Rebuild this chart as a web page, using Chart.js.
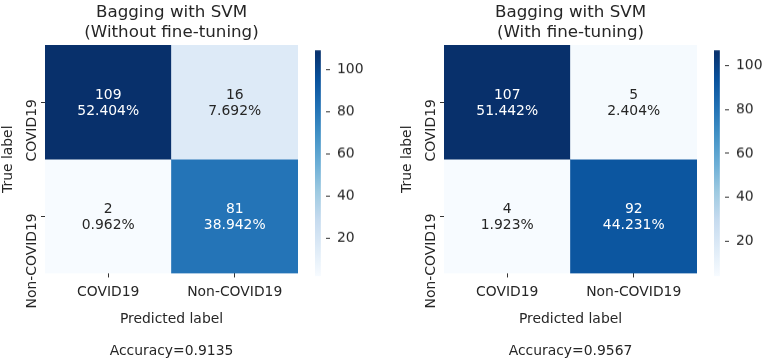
<!DOCTYPE html>
<html>
<head>
<meta charset="utf-8">
<title>Bagging with SVM - confusion matrices</title>
<script src="https://cdn.jsdelivr.net/npm/chart.js@4.4.0/dist/chart.umd.min.js"></script>
<style>
	body{margin:0;background:#fff;}
	#page{position:relative;width:762px;height:360px;overflow:hidden;background:#fff;}
	.box{position:absolute;}
</style>
</head>
<body>
<div id="page">
	<div class="box" style="left:0;top:0;width:300px;height:360px"><canvas id="matrixPlain"></canvas></div>
	<div class="box" style="left:315px;top:35px;width:52px;height:255.5px"><canvas id="barPlain"></canvas></div>
	<div class="box" style="left:399px;top:0;width:300px;height:360px"><canvas id="matrixTuned"></canvas></div>
	<div class="box" style="left:714px;top:35px;width:48px;height:255.5px"><canvas id="barTuned"></canvas></div>
</div>
<script>
// Confusion matrices for bagging with SVM, before and after fine-tuning
const classes = ['COVID19', 'Non-COVID19'];

const countsPlain = [[109, 16], [2, 81]];
const percentsPlain = [[52.404, 7.692], [0.962, 38.942]];
const countsTuned = [[107, 5], [4, 92]];
const percentsTuned = [[51.442, 2.404], [1.923, 44.231]];

const titlePlain = ['Bagging with SVM', '(Without fine-tuning)'];
const titleTuned = ['Bagging with SVM', '(With fine-tuning)'];
const accuracyPlain = 0.9135;
const accuracyTuned = 0.9567;

const colorbarTicks = [20, 40, 60, 80, 100];

// matplotlib "Blues" colour stops
const bluesStops = ['#f7fbff', '#deebf7', '#c6dbef', '#9ecae1', '#6baed6', '#4292c6', '#2171b5', '#08519c', '#08306b'];

const textDark = '#262626';
const fontFamily = '"DejaVu Sans", Verdana, sans-serif';
const labelSize = 13.9;
const titleSize = 16.7;

Chart.defaults.font.family = fontFamily;
Chart.defaults.font.size = labelSize;
Chart.defaults.color = textDark;

function hexToRgb(hex){
	return [parseInt(hex.slice(1, 3), 16), parseInt(hex.slice(3, 5), 16), parseInt(hex.slice(5, 7), 16)];
}

function blues(t){
	t = Math.min(1, Math.max(0, t));
	let pos = t * (bluesStops.length - 1);
	let i = Math.min(Math.floor(pos), bluesStops.length - 2);
	let f = pos - i;
	let a = hexToRgb(bluesStops[i]);
	let b = hexToRgb(bluesStops[i + 1]);
	return a.map((v, k) => Math.round(v + (b[k] - v) * f));
}

function rgbString(c){
	return 'rgb(' + c[0] + ',' + c[1] + ',' + c[2] + ')';
}

// same rule seaborn uses to pick the annotation colour
function textColorFor(c){
	let lin = c.map(v => {
		v = v / 255;
		return v <= 0.03928 ? v / 12.92 : Math.pow((v + 0.055) / 1.055, 2.4);
	});
	let lum = 0.2126 * lin[0] + 0.7152 * lin[1] + 0.0722 * lin[2];
	return lum > 0.408 ? textDark : '#ffffff';
}

// count + percentage written in the middle of each cell
const cellTextPlugin = {
	id: 'cellText',
	afterDatasetsDraw(chart, args, opts){
		let ctx = chart.ctx;
		ctx.save();
		ctx.font = labelSize + 'px ' + fontFamily;
		ctx.textAlign = 'center';
		ctx.textBaseline = 'middle';
		chart.data.datasets.forEach((ds, row) => {
			chart.getDatasetMeta(row).data.forEach((bar, col) => {
				let p = bar.getCenterPoint();
				ctx.fillStyle = opts.colors[row][col];
				ctx.fillText(String(opts.counts[row][col]), p.x, p.y - 6.8);
				ctx.fillText(opts.percents[row][col].toFixed(3) + '%', p.x, p.y + 9.4);
			});
		});
		ctx.restore();
	}
};

// rotated class names on the y axis, hanging down from each tick like the original
const yLabelPlugin = {
	id: 'yLabels',
	afterDraw(chart, args, opts){
		let scale = chart.scales.y;
		let ctx = chart.ctx;
		ctx.save();
		ctx.font = labelSize + 'px ' + fontFamily;
		ctx.fillStyle = textDark;
		ctx.textAlign = 'right';
		ctx.textBaseline = 'alphabetic';
		scale.ticks.forEach((tick, i) => {
			let y = scale.getPixelForValue(tick.value);
			ctx.save();
			ctx.translate(scale.right - 9, y - 3);
			ctx.rotate(-Math.PI / 2);
			ctx.fillText(opts.labels[i], 0, 0);
			ctx.restore();
		});
		ctx.restore();
	}
};

function drawMatrix(canvasId, counts, percents, title, accuracy){
	let flat = counts.flat();
	let vmin = Math.min(...flat);
	let vmax = Math.max(...flat);
	let cellColors = counts.map(row => row.map(v => blues((v - vmin) / (vmax - vmin))));

	// one floating bar per cell, each row spans [r, r + 1] on the y scale
	let datasets = counts.map((row, r) => ({
		data: row.map(() => [r, r + 1]),
		backgroundColor: cellColors[r].map(rgbString),
		borderWidth: 0,
		grouped: false,
		barPercentage: 1,
		categoryPercentage: 1
	}));

	return new Chart(document.getElementById(canvasId), {
		type: 'bar',
		data: {labels: classes, datasets: datasets},
		plugins: [cellTextPlugin, yLabelPlugin],
		options: {
			responsive: true,
			maintainAspectRatio: false,
			animation: false,
			events: [],
			layout: {padding: {left: 0, right: 2, top: 0, bottom: 0}},
			scales: {
				x: {
					type: 'category',
					offset: true,
					grid: {display: true, drawOnChartArea: false, drawTicks: true, tickLength: 4, offset: false, color: '#333'},
					border: {display: false},
					ticks: {padding: 7, font: {size: labelSize}, color: textDark, maxRotation: 0},
					title: {display: true, text: 'Predicted label', font: {size: labelSize}, color: textDark, padding: {top: 2.5, bottom: 0}}
				},
				y: {
					type: 'linear',
					min: 0,
					max: 2,
					reverse: true,
					afterBuildTicks: scale => {
						scale.ticks = classes.map((c, i) => ({value: i + 0.5}));
					},
					afterFit: scale => {
						scale.width = 45;
					},
					grid: {display: true, drawOnChartArea: false, drawTicks: true, tickLength: 4, color: '#333'},
					border: {display: false},
					ticks: {display: false},
					title: {display: true, text: 'True label', font: {size: labelSize}, color: textDark, padding: {top: 0, bottom: 0}}
				}
			},
			plugins: {
				legend: {display: false},
				tooltip: {enabled: false},
				title: {
					display: true,
					text: title,
					fullSize: false,
					color: textDark,
					font: {size: titleSize, weight: 'normal', lineHeight: 1.17},
					padding: {top: 3, bottom: 3}
				},
				subtitle: {
					display: true,
					position: 'bottom',
					text: 'Accuracy=' + accuracy.toFixed(4),
					fullSize: false,
					color: textDark,
					font: {size: labelSize, weight: 'normal'},
					padding: {top: 16, bottom: 0}
				},
				cellText: {
					counts: counts,
					percents: percents,
					colors: cellColors.map(row => row.map(textColorFor))
				},
				yLabels: {labels: classes}
			}
		}
	});
}

// vertical colour bar with its own value axis
function drawColorbar(canvasId, counts){
	let flat = counts.flat();
	let vmin = Math.min(...flat);
	let vmax = Math.max(...flat);

	return new Chart(document.getElementById(canvasId), {
		type: 'bar',
		data: {
			labels: [''],
			datasets: [{
				data: [[vmin, vmax]],
				borderWidth: 0,
				barPercentage: 1,
				categoryPercentage: 1,
				backgroundColor: context => {
					let area = context.chart.chartArea;
					if(!area) return bluesStops[4];
					let grad = context.chart.ctx.createLinearGradient(0, area.bottom, 0, area.top);
					bluesStops.forEach((c, i) => grad.addColorStop(i / (bluesStops.length - 1), c));
					return grad;
				}
			}]
		},
		options: {
			responsive: true,
			maintainAspectRatio: false,
			animation: false,
			events: [],
			layout: {padding: {left: 0, right: 0, top: 10, bottom: 10}},
			scales: {
				x: {display: false, offset: false},
				y: {
					type: 'linear',
					position: 'right',
					min: vmin,
					max: vmax,
					afterBuildTicks: scale => {
						scale.ticks = colorbarTicks.map(v => ({value: v}));
					},
					afterFit: scale => {
						scale.width = scale.chart.width - 11;
					},
					grid: {display: true, drawOnChartArea: false, drawTicks: true, tickLength: 4, color: '#333'},
					border: {display: false},
					ticks: {padding: 7, font: {size: labelSize}, color: textDark}
				}
			},
			plugins: {
				legend: {display: false},
				tooltip: {enabled: false}
			}
		}
	});
}

document.addEventListener('DOMContentLoaded', () => {
	drawMatrix('matrixPlain', countsPlain, percentsPlain, titlePlain, accuracyPlain);
	drawColorbar('barPlain', countsPlain);
	drawMatrix('matrixTuned', countsTuned, percentsTuned, titleTuned, accuracyTuned);
	drawColorbar('barTuned', countsTuned);
});
</script>
</body>
</html>
